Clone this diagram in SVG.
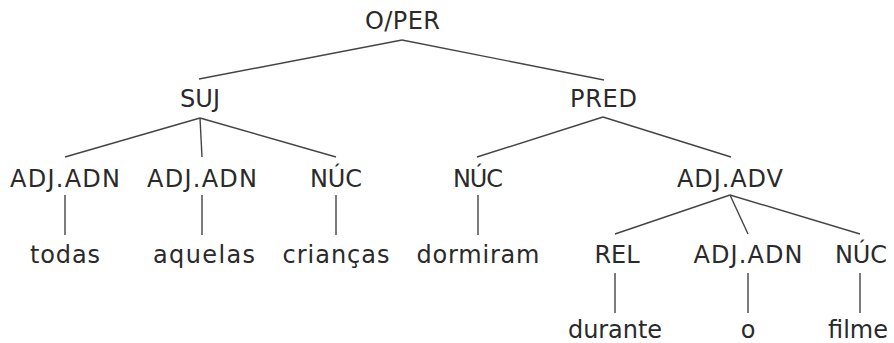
<svg xmlns="http://www.w3.org/2000/svg" width="894" height="343" viewBox="0 0 894 343">
<style>
text{font-family:"DejaVu Sans","Liberation Sans",sans-serif;font-size:24px;fill:#2a2a2a;text-anchor:middle}
.c line{stroke:#444;stroke-width:1.4}
</style>
<rect width="894" height="343" fill="#fff"/>
<g class="c" id="connectors">
<line x1="402" y1="40" x2="199" y2="79"/>
<line x1="402" y1="40" x2="604" y2="80"/>
<line x1="200" y1="118" x2="65" y2="157"/>
<line x1="200" y1="118" x2="202" y2="157"/>
<line x1="200" y1="118" x2="336" y2="157"/>
<line x1="603" y1="117" x2="477" y2="157"/>
<line x1="603" y1="117" x2="731" y2="157"/>
<line x1="65" y1="195" x2="65" y2="235"/>
<line x1="202" y1="195" x2="202" y2="235"/>
<line x1="336" y1="195" x2="336" y2="235"/>
<line x1="478" y1="195" x2="478" y2="235"/>
<line x1="730" y1="195" x2="615" y2="234"/>
<line x1="730" y1="195" x2="748" y2="234"/>
<line x1="730" y1="195" x2="860" y2="234"/>
<line x1="615" y1="273" x2="615" y2="313"/>
<line x1="748" y1="273" x2="748" y2="313"/>
<line x1="860" y1="273" x2="860" y2="313"/>
</g>
<g id="n-oper"><text x="402.5" y="29" textLength="75" lengthAdjust="spacing">O/PER</text></g>
<g id="n-suj"><text x="200" y="107" textLength="40" lengthAdjust="spacing">SUJ</text></g>
<g id="n-pred"><text x="603.5" y="107" textLength="67" lengthAdjust="spacing">PRED</text></g>
<g id="n-adjadn1"><text x="65" y="186.5" textLength="110" lengthAdjust="spacing">ADJ.ADN</text></g>
<g id="n-adjadn2"><text x="202" y="186.5" textLength="110" lengthAdjust="spacing">ADJ.ADN</text></g>
<g id="n-nuc1"><text x="336" y="186.5" textLength="52" lengthAdjust="spacing">NÚC</text></g>
<g id="n-nuc2"><text x="478" y="186.5" textLength="50" lengthAdjust="spacing">NÚC</text></g>
<g id="n-adjadv"><text x="730" y="186.5" textLength="106" lengthAdjust="spacing">ADJ.ADV</text></g>
<g id="n-todas"><text x="65" y="263" textLength="70" lengthAdjust="spacing">todas</text></g>
<g id="n-aquelas"><text x="204" y="263" textLength="102" lengthAdjust="spacing">aquelas</text></g>
<g id="n-criancas"><text x="336" y="263" textLength="107" lengthAdjust="spacing">crianças</text></g>
<g id="n-dormiram"><text x="478" y="263" textLength="123" lengthAdjust="spacing">dormiram</text></g>
<g id="n-rel"><text x="617" y="263" textLength="45" lengthAdjust="spacing">REL</text></g>
<g id="n-adjadn3"><text x="748" y="263" textLength="109" lengthAdjust="spacing">ADJ.ADN</text></g>
<g id="n-nuc3"><text x="861" y="263" textLength="52" lengthAdjust="spacing">NÚC</text></g>
<g id="n-durante"><text x="615" y="338" textLength="94" lengthAdjust="spacing">durante</text></g>
<g id="n-o"><text x="748" y="338">o</text></g>
<g id="n-filme"><text x="858" y="338" textLength="60" lengthAdjust="spacing">filme</text></g>
</svg>
